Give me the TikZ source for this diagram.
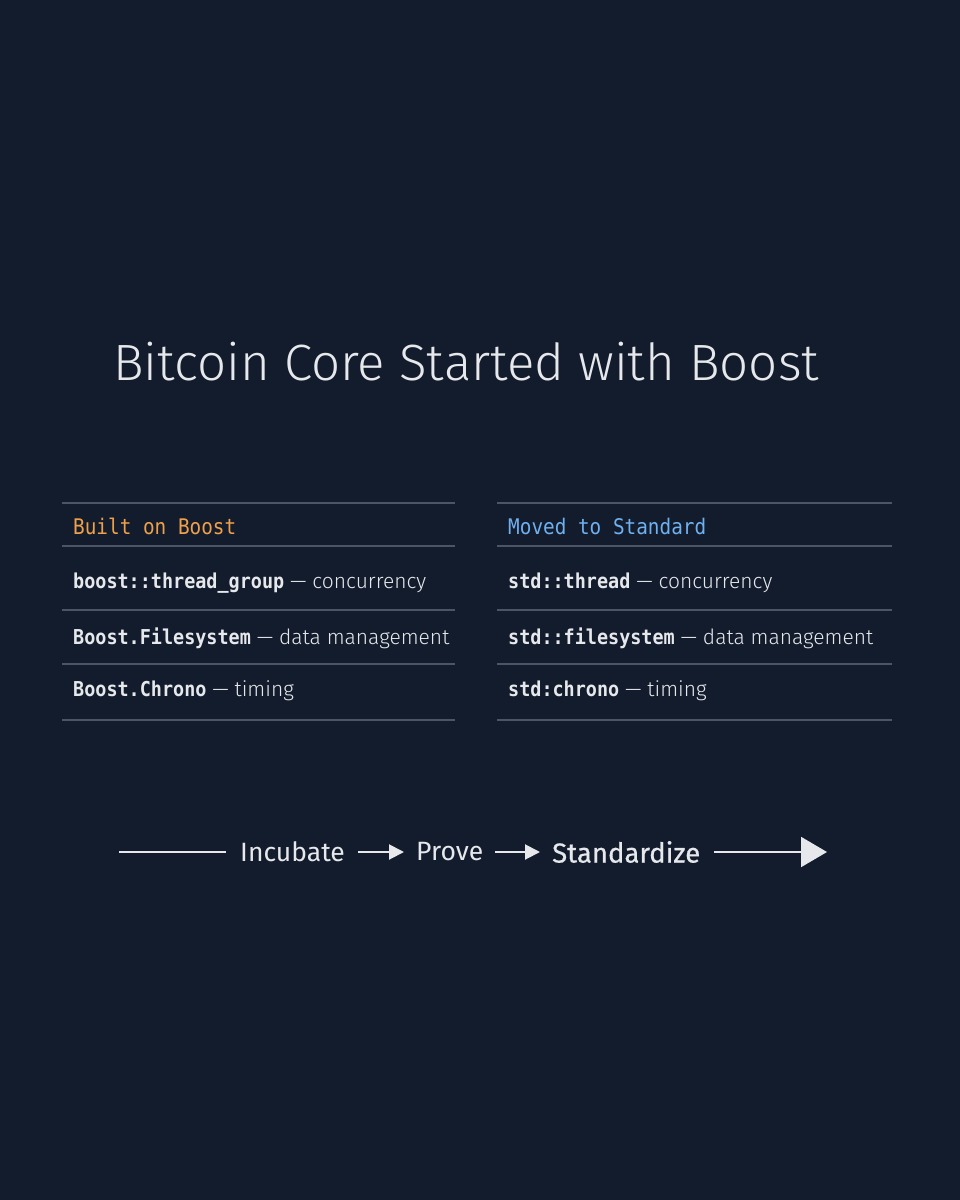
\documentclass[tikz,border=0pt]{standalone}
\usepackage{fontspec}
\setmainfont{Fira Sans Light}
\newfontfamily\monob{DejaVu Sans Mono}[FakeStretch=0.9]
\newfontfamily\titlef{Fira Sans Light}
\newfontfamily\flowf{Fira Sans}
\usetikzlibrary{arrows.meta}
\definecolor{bg}{HTML}{131C2C}
\definecolor{rule}{HTML}{4A5566}
\definecolor{orng}{HTML}{F0A04A}
\definecolor{blu}{HTML}{6FB0F0}
\definecolor{txt}{HTML}{E6E8EC}
\begin{document}
\begin{tikzpicture}[x=1pt,y=-1pt,
  rl/.style={draw=rule,line width=1.5pt},
  row/.style={anchor=west,inner sep=0,text=txt,font=\fontsize{21}{24}\selectfont},
  hd/.style={anchor=west,inner sep=0,font=\monob\fontsize{21.5}{24}\selectfont},
  fl/.style={inner sep=0,text=txt,font=\flowf\fontsize{26.5}{30}\selectfont},
  ar/.style={draw=txt,line width=2pt,-{Triangle[length=15pt,width=15pt]}}]
\fill[bg] (0,0) rectangle (960,1200);
\useasboundingbox (0,0) rectangle (960,1200);
\node[anchor=west,inner sep=0,text=txt,font=\titlef\fontsize{51}{58}\selectfont] (title) at (113,362) {Bitcoin Core Started with Boost};
\foreach \y/\n in {503/a,546/b,610/c,664/d,720/e}{
  \draw[rl] (62,\y) coordinate (L\n) -- (455,\y);
  \draw[rl] (497,\y) coordinate (R\n) -- (892,\y);}
\node[hd,text=orng] (h1) at (73,526) {Built on Boost};
\node[hd,text=blu] (h2) at (508,526) {Moved to Standard};
\node[row] (l1) at (73,583) {{\monob\bfseries\fontsize{20.5}{24}\selectfont boost::thread\_group} — concurrency};
\node[row] (l2) at (73,638) {{\monob\bfseries\fontsize{20.5}{24}\selectfont Boost.Filesystem} — data management};
\node[row] (l3) at (73,691) {{\monob\bfseries\fontsize{20.5}{24}\selectfont Boost.Chrono} — timing};
\node[row] (r1) at (508,583) {{\monob\bfseries\fontsize{20.5}{24}\selectfont std::thread} — concurrency};
\node[row] (r2) at (508,638) {{\monob\bfseries\fontsize{20.5}{24}\selectfont std::filesystem} — data management};
\node[row] (r3) at (508,691) {{\monob\bfseries\fontsize{20.5}{24}\selectfont std:chrono} — timing};
\coordinate (s) at (119,852);
\coordinate (e) at (827,852);
\node[fl,anchor=west] (i) at (240,852) {Incubate};
\node[fl,anchor=west] (p) at (416,852) {Prove};
\node[fl,anchor=west,font=\flowf\fontsize{27.5}{30}\selectfont\addfontfeature{FakeBold=0.6}] (st) at (552,852) {Standardize};
\draw[draw=txt,line width=2pt] (s) -- (226,852);
\draw[ar] ([xshift=13]i.east) -- ([xshift=-12]p.west);
\draw[ar] ([xshift=12]p.east) -- ([xshift=-12]st.west);
\draw[draw=txt,line width=2pt,-{Triangle[length=26pt,width=30pt]}] ([xshift=14]st.east) -- (e);
\end{tikzpicture}
\end{document}
